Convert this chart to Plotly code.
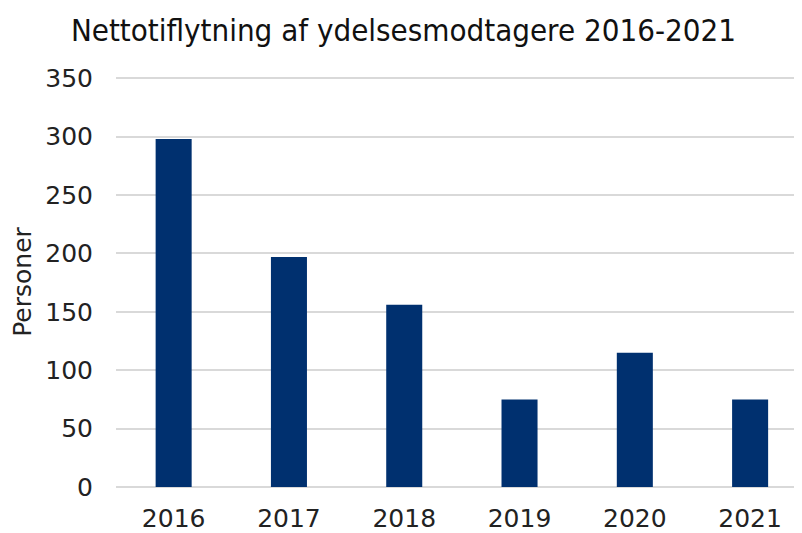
import plotly.graph_objects as go

years = ["2016", "2017", "2018", "2019", "2020", "2021"]
personer = [298, 197, 156, 75, 115, 75]
y_ticks = [0, 50, 100, 150, 200, 250, 300, 350]

fig = go.Figure(
    go.Bar(x=years, y=personer, marker=dict(color="#00306F", line=dict(width=0)))
)

fig.update_layout(
    width=794, height=525,
    margin=dict(l=108, r=0, t=69, b=44),
    paper_bgcolor="white", plot_bgcolor="white",
    bargap=0.6875,
    showlegend=False,
    title=dict(
        text="Nettotiflytning af ydelsesmodtagere 2016-2021",
        x=0.498, xanchor="center", y=0.958, yanchor="middle",
        font=dict(family="DejaVu Sans Condensed, Liberation Sans Narrow, DejaVu Sans", size=31, color="#111111"),
    ),
    font=dict(family="DejaVu Sans, Verdana", color="#222222"),
)

fig.update_xaxes(
    type="category", range=[-0.5, 5.45],
    tickfont=dict(size=25, color="#222222"),
    ticks="", ticklabelstandoff=14,
    showgrid=False, showline=False, zeroline=False,
)
fig.update_yaxes(
    range=[0, 351], tickvals=y_ticks,
    tickfont=dict(size=25, color="#222222"),
    ticks="", ticklabelstandoff=22,
    showgrid=True, gridcolor="#D9D9D9", gridwidth=1.5,
    zeroline=True, zerolinecolor="#D9D9D9", zerolinewidth=1.5,
    showline=False,
    title=dict(text="Personer", font=dict(size=25, color="#222222"), standoff=10),
)

fig.write_html("out.html")
